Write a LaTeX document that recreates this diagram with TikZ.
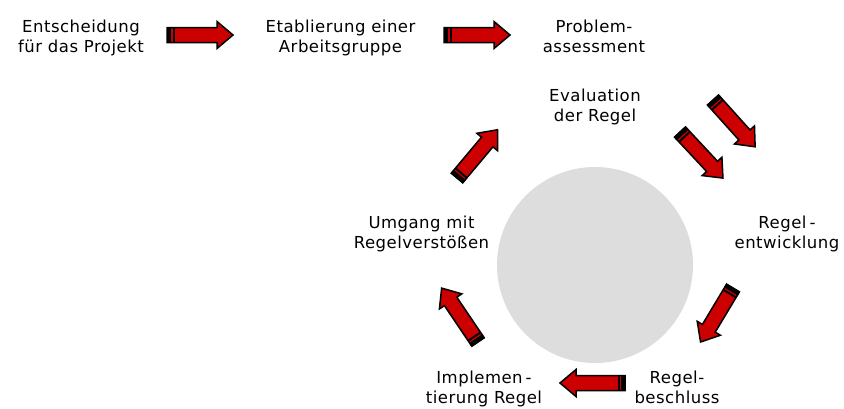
\documentclass[tikz,border=0pt]{standalone}
\usepackage{fontspec}
\setmainfont{DejaVu Sans}[LetterSpace=3]
\definecolor{arrowred}{HTML}{CC0000}
\definecolor{circlegray}{HTML}{DDDDDD}
\tikzset{
  lbl/.style={align=center, inner sep=0pt, anchor=base, font=\fontsize{16.5}{20}\selectfont},
  barrow/.pic={
    \def\L{#1}
    \filldraw[fill=arrowred, draw=black, line width=1.5pt, line join=miter]
      (0,-7.5) -- (\L-16,-7.5) -- (\L-16,-13.5) -- (\L,0) -- (\L-16,13.5) -- (\L-16,7.5) -- (0,7.5) -- cycle;
    \filldraw[fill=black, draw=black, line width=1pt] (0,-7.5) rectangle (3.5,7.5);
    \fill[black] (5.5,-7.5) rectangle (7.5,7.5);
  }
}
\begin{document}
\begin{tikzpicture}[x=1pt, y=-1pt]
\useasboundingbox (0,0) rectangle (844,408);
\fill[white] (0,0) rectangle (844,408);
\node[circle, fill=circlegray, minimum size=196pt, inner sep=0pt] (hub) at (595,265) {};

\node[lbl] (n1) at (81,52) {Entscheidung\\für das Projekt};
\node[lbl] (n2) at (340.5,52) {Etablierung einer\\Arbeitsgruppe};
\node[lbl] (n3) at (594,52) {Problem-\\assessment};
\node[lbl] (n4) at (595,121.5) {Evaluation\\der Regel};
\node[lbl] (n5) at (787,248) {Regel\kern3pt-\\entwicklung};
\node[lbl] (n6) at (677,403) {Regel-\\beschluss};
\node[lbl] (n7) at (484,403) {Implemen\kern3pt-\\tierung Regel};
\node[lbl] (n8) at (421.5,248) {Umgang mit\\Regelverstößen};

\coordinate (a1) at (167,35);
\coordinate (a2) at (444,35);
\coordinate (a3) at (713,100);
\coordinate (a4) at (680,132);
\coordinate (a5) at (733,288);
\coordinate (a6) at (625,383);
\coordinate (a7) at (478,342);
\coordinate (a8) at (457,178);

\pic at (a1) {barrow=66};
\pic at (a2) {barrow=66};
\pic[rotate=-48] at (a3) {barrow=63};
\pic[rotate=-47] at (a4) {barrow=63};
\pic[rotate=-121] at (a5) {barrow=63};
\pic[rotate=180] at (a6) {barrow=65};
\pic[rotate=124] at (a7) {barrow=65};
\pic[rotate=50] at (a8) {barrow=63};
\end{tikzpicture}
\end{document}
